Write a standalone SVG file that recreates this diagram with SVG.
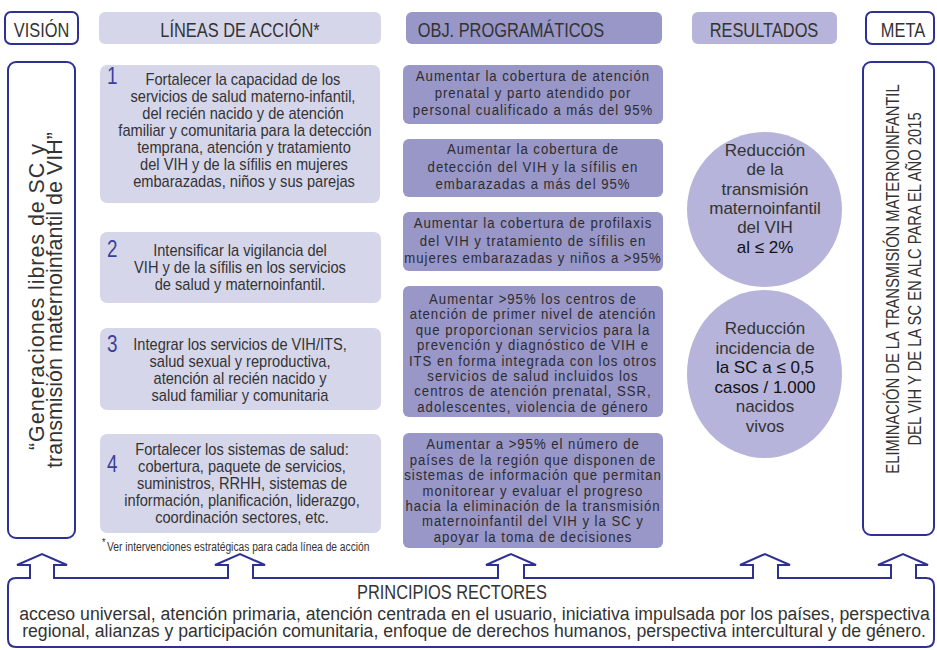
<svg xmlns="http://www.w3.org/2000/svg" width="937" height="650" viewBox="0 0 937 650">
<style>
text{font-family:"Liberation Sans",Arial,sans-serif;fill:#333;text-anchor:middle}
.hdr{font-size:20px}
.ln{font-size:16.8px}
.num{font-size:23px;fill:#3b3f9c;text-anchor:start}
.obj{font-size:15.5px;letter-spacing:1.15px;fill:#2d2d2d}
.res{font-size:17px}
.dk{fill:#111}
.vis{font-size:21.5px}
.meta{font-size:18px}
.pr{font-size:19px}
.fn{font-size:12.5px;text-anchor:start}
.outline{fill:#fff;stroke:#2e3192;stroke-width:2}
.lb{fill:#d6d6ea}
.ob{fill:#9996c8}
.rs{fill:#b6b4da}
</style>
<g id="hdr-vision"><rect class="outline" x="5" y="12" width="73" height="32" rx="6"/><text class="hdr" transform="translate(41.5 37) scale(.82 1)">VISIÓN</text></g>
<g id="hdr-lineas"><rect class="lb" x="99" y="12" width="282" height="32" rx="6"/><text class="hdr" transform="translate(240 37) scale(.82 1)">LÍNEAS DE ACCIÓN*</text></g>
<g id="hdr-obj"><rect class="ob" x="406" y="12" width="256" height="32" rx="6"/><text class="hdr" transform="translate(511 37) scale(.82 1)">OBJ. PROGRAMÁTICOS</text></g>
<g id="hdr-res"><rect class="rs" x="692" y="12" width="145" height="32" rx="6"/><text class="hdr" transform="translate(764 37) scale(.82 1)">RESULTADOS</text></g>
<g id="hdr-meta"><rect class="outline" x="866" y="12" width="68" height="32" rx="6"/><text class="hdr" transform="translate(903 37) scale(.82 1)">META</text></g>

<g id="vision"><rect class="outline" x="8" y="62" width="67" height="476" rx="8"/>
<text class="vis" transform="translate(44 297) rotate(-90)" textLength="306" lengthAdjust="spacing">“Generaciones libres de SC y</text>
<text class="vis" transform="translate(62 300) rotate(-90)">transmisión maternoinfantil de VIH”</text></g>

<g id="linea1"><rect class="lb" x="100" y="65" width="280" height="138" rx="7"/>
<text class="num" transform="translate(107 84) scale(.82 1)">1</text>
<text class="ln" transform="translate(243 85) scale(.87 1)">Fortalecer la capacidad de los</text>
<text class="ln" transform="translate(243 102) scale(.87 1)">servicios de salud materno-infantil,</text>
<text class="ln" transform="translate(243 119) scale(.87 1)">del recién nacido y de atención</text>
<text class="ln" transform="translate(245 136) scale(.87 1)">familiar y comunitaria para la detección</text>
<text class="ln" transform="translate(244 153) scale(.87 1)">temprana, atención y tratamiento</text>
<text class="ln" transform="translate(244 170) scale(.87 1)">del VIH y de la sífilis en mujeres</text>
<text class="ln" transform="translate(244 187) scale(.87 1)">embarazadas, niños y sus parejas</text></g>

<g id="linea2"><rect class="lb" x="100" y="232" width="281" height="71" rx="7"/>
<text class="num" transform="translate(107 257) scale(.82 1)">2</text>
<text class="ln" transform="translate(240 256) scale(.87 1)">Intensificar la vigilancia del</text>
<text class="ln" transform="translate(240 273) scale(.87 1)">VIH y de la sífilis en los servicios</text>
<text class="ln" transform="translate(240 290) scale(.87 1)">de salud y maternoinfantil.</text></g>

<g id="linea3"><rect class="lb" x="100" y="328" width="281" height="82" rx="7"/>
<text class="num" transform="translate(107 352) scale(.82 1)">3</text>
<text class="ln" transform="translate(240 350) scale(.87 1)">Integrar los servicios de VIH/ITS,</text>
<text class="ln" transform="translate(240 367) scale(.87 1)">salud  sexual y reproductiva,</text>
<text class="ln" transform="translate(240 384) scale(.87 1)">atención al recién nacido y</text>
<text class="ln" transform="translate(240 401) scale(.87 1)">salud familiar y comunitaria</text></g>

<g id="linea4"><rect class="lb" x="100" y="434" width="281" height="99" rx="7"/>
<text class="num" transform="translate(107 472) scale(.82 1)">4</text>
<text class="ln" transform="translate(242 455) scale(.87 1)">Fortalecer los sistemas de salud:</text>
<text class="ln" transform="translate(242 472) scale(.87 1)">cobertura, paquete de servicios,</text>
<text class="ln" transform="translate(242 489) scale(.87 1)">suministros, RRHH, sistemas de</text>
<text class="ln" transform="translate(242 506) scale(.87 1)">información, planificación, liderazgo,</text>
<text class="ln" transform="translate(242 523) scale(.87 1)">coordinación sectores, etc.</text></g>

<g id="nota"><text class="fn" transform="translate(102 546) scale(.82 1)" style="font-size:11px">*</text><text class="fn" transform="translate(107 551) scale(.82 1)">Ver intervenciones estratégicas para cada línea de acción</text></g>

<g id="obj1"><rect class="ob" x="403" y="65" width="260" height="59" rx="6"/>
<text class="obj" transform="translate(533 81) scale(.85 1)">Aumentar la cobertura de atención</text>
<text class="obj" transform="translate(533 98) scale(.85 1)">prenatal y parto atendido por</text>
<text class="obj" transform="translate(533 115) scale(.85 1)">personal cualificado a más del 95%</text></g>

<g id="obj2"><rect class="ob" x="403" y="139" width="260" height="58" rx="6"/>
<text class="obj" transform="translate(533 154) scale(.85 1)">Aumentar la cobertura de</text>
<text class="obj" transform="translate(533 171.5) scale(.85 1)">detección del VIH y la sífilis en</text>
<text class="obj" transform="translate(533 189) scale(.85 1)">embarazadas a más del 95%</text></g>

<g id="obj3"><rect class="ob" x="403" y="212" width="260" height="59" rx="6"/>
<text class="obj" transform="translate(533 228) scale(.85 1)">Aumentar la cobertura de profilaxis</text>
<text class="obj" transform="translate(533 245.5) scale(.85 1)">del VIH y tratamiento de sífilis en</text>
<text class="obj" transform="translate(533 263) scale(.85 1)">mujeres embarazadas y niños a &gt;95%</text></g>

<g id="obj4"><rect class="ob" x="403" y="286" width="260" height="131" rx="6"/>
<text class="obj" transform="translate(533 304) scale(.85 1)">Aumentar &gt;95% los centros de</text>
<text class="obj" transform="translate(533 319.4) scale(.85 1)">atención de primer nivel de atención</text>
<text class="obj" transform="translate(533 334.8) scale(.85 1)">que proporcionan servicios para la</text>
<text class="obj" transform="translate(533 350.2) scale(.85 1)">prevención y diagnóstico de VIH e</text>
<text class="obj" transform="translate(533 365.6) scale(.85 1)">ITS en forma integrada con los otros</text>
<text class="obj" transform="translate(533 381) scale(.85 1)">servicios de salud incluidos los</text>
<text class="obj" transform="translate(533 396.4) scale(.85 1)">centros de atención prenatal, SSR,</text>
<text class="obj" transform="translate(533 411.8) scale(.85 1)">adolescentes, violencia de género</text></g>

<g id="obj5"><rect class="ob" x="403" y="433" width="260" height="115" rx="6"/>
<text class="obj" transform="translate(533 449.3) scale(.85 1)">Aumentar a &gt;95% el número de</text>
<text class="obj" transform="translate(533 464.7) scale(.85 1)">países de la región que disponen de</text>
<text class="obj" transform="translate(533 480.1) scale(.85 1)">sistemas de información que permitan</text>
<text class="obj" transform="translate(533 495.5) scale(.85 1)">monitorear y evaluar el progreso</text>
<text class="obj" transform="translate(533 510.9) scale(.85 1)">hacia la eliminación de la transmisión</text>
<text class="obj" transform="translate(533 526.3) scale(.85 1)">maternoinfantil del VIH y la SC y</text>
<text class="obj" transform="translate(533 541.7) scale(.85 1)">apoyar la toma de decisiones</text></g>

<g id="res1"><ellipse class="rs" cx="764.5" cy="209.5" rx="77.5" ry="77.5"/>
<text class="res" x="765" y="156">Reducción</text>
<text class="res" x="765" y="175.3">de la</text>
<text class="res" x="765" y="194.7">transmisión</text>
<text class="res" x="765" y="214">maternoinfantil</text>
<text class="res" x="765" y="233.3">del VIH</text>
<text class="res dk" x="765" y="252.7">al ≤ 2%</text></g>

<g id="res2"><ellipse class="rs" cx="764.5" cy="374" rx="77.5" ry="84"/>
<text class="res" x="765" y="334">Reducción</text>
<text class="res" x="765" y="353.5">incidencia de</text>
<text class="res dk" x="765" y="373">la SC a ≤ 0,5</text>
<text class="res dk" x="765" y="392.5">casos / 1.000</text>
<text class="res" x="765" y="412">nacidos</text>
<text class="res" x="765" y="431.5">vivos</text></g>

<g id="meta"><rect class="outline" x="863" y="62" width="71" height="473" rx="8"/>
<text class="meta" transform="translate(899 279) rotate(-90) scale(.82 1)">ELIMINACIÓN DE LA TRANSMISIÓN MATERNOINFANTIL</text>
<text class="meta" transform="translate(921 279) rotate(-90) scale(.82 1)">DEL VIH Y DE LA SC EN ALC PARA EL AÑO 2015</text></g>

<g id="connectors">
<path class="outline" d="M16 647 Q8 647 8 639 L8 586 Q8 578 16 578 L30 578 L30 565 L17 565 L42 554 L67 565 L54 565 L54 578 L228 578 L228 565 L215 565 L240 554 L265 565 L253 565 L253 578 L498 578 L498 565 L486 565 L511 554 L536 565 L524 565 L524 578 L753 578 L753 565 L740 565 L765 554 L790 565 L778 565 L778 578 L891 578 L891 565 L878 565 L903 554 L928 565 L916 565 L916 578 L926 578 Q934 578 934 586 L934 639 Q934 647 926 647 Z"/>
</g>

<g id="principios">
<text class="hdr" transform="translate(452 599) scale(.82 1)">PRINCIPIOS RECTORES</text>
<text class="pr" transform="translate(474.5 620) scale(.93 1)">acceso universal, atención primaria, atención centrada en el usuario, iniciativa impulsada por los países, perspectiva</text>
<text class="pr" transform="translate(474 637) scale(.93 1)">regional, alianzas y participación comunitaria, enfoque de derechos humanos, perspectiva intercultural y de género.</text>
</g>
</svg>
